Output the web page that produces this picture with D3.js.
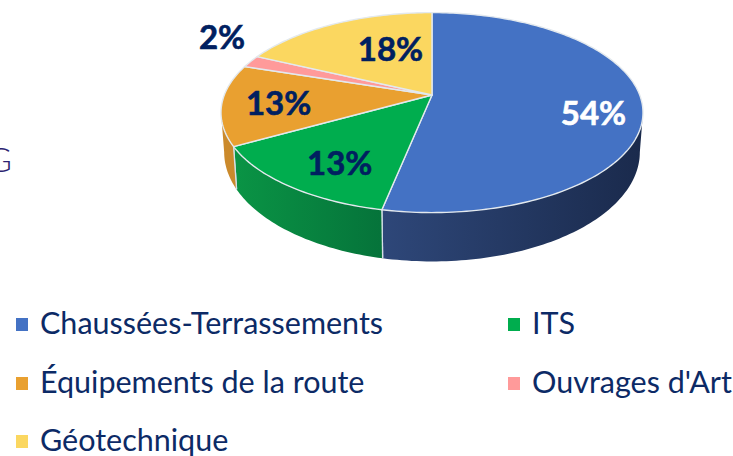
<!DOCTYPE html>
<html><head><meta charset="utf-8">
<script src="https://cdn.jsdelivr.net/npm/d3@7"></script>
<style>html,body{margin:0;padding:0;background:#fff}svg{display:block}text{font-family:Lato,"Noto Sans",sans-serif}</style>
</head><body><svg width="733" height="456"></svg>
<script>
const categories = ["Chaussées-Terrassements","ITS","Équipements de la route","Ouvrages d'Art","Géotechnique"];
const values = [53.2,13.7,13.1,2,18];
const labels = ["54%","13%","13%","2%","18%"];
const topColors = ["#4472c4","#00ad4e","#e9a030","#ff9a9a","#fbd760"];
const wallLeft = ["#2e4779","#0a9445","#cc8a2c","#c97a7a","#c9a94c"];
const wallRight = ["#1a2a4c","#05733a","#c98a2c","#c97a7a","#c9a94c"];
const labelColors = ["#ffffff","#002060","#002060","#002060","#002060"];
const labelRadius = [.7,.7,.7,1.2,.7];
const labelNudge = [[15,10],[3,6],[-7,0],[5,-19],[29,5]];

const svg = d3.select("svg");
const cx=432, cy=95, A=207.7, C=96.9, K=0.176;
const X=d3.scaleLinear().domain([-1,1]).range([cx-A,cx+A]);
const Y=d3.scaleLinear().domain([-1,1]).range([cy-C,cy+C]);
function project(theta,r=1){
  const u=r*Math.sin(theta), v=-r*Math.cos(theta), d=1-K*v;
  return [X(u/d),Y(v/d)];
}
function lower(p){ return [cx+(p[0]-cx)*0.985, cy+38+(p[1]-cy)*1.092]; }
function samples(a0,a1){
  const n=Math.max(2,Math.ceil(Math.abs(a1-a0)/0.02));
  return d3.range(n+1).map(i=>a0+(a1-a0)*i/n);
}
const line=d3.line();
const arcs=d3.pie().sort(null).value(d=>d)(values);
const defs=svg.append("defs");

// side wall, only along the front of the disc
const frontStart=Math.acos(-K)*1, frontEnd=2*Math.PI-frontStart;
arcs.forEach((a,i)=>{
  const s=Math.max(a.startAngle,frontStart), e=Math.min(a.endAngle,frontEnd);
  if(e<=s) return;
  const t=samples(s,e).map(x=>project(x));
  const poly=t.concat(t.map(lower).reverse());
  const xs=d3.extent(poly,p=>p[0]);
  const g=defs.append("linearGradient").attr("id","w"+i).attr("gradientUnits","userSpaceOnUse")
    .attr("x1",xs[0]).attr("x2",xs[1]).attr("y1",0).attr("y2",0);
  g.append("stop").attr("offset",0).attr("stop-color",wallLeft[i]);
  g.append("stop").attr("offset",1).attr("stop-color",wallRight[i]);
  svg.append("path").attr("d",line(poly)+"Z").attr("fill",`url(#w${i})`);
  [s,e].forEach(b=>{
    if(b===frontStart||b===frontEnd) return;
    const p=project(b);
    svg.append("path").attr("d",line([p,lower(p)])).attr("stroke","#d5dfe6").attr("stroke-width",1.3).attr("fill","none");
  });
});

// top face
arcs.forEach((a,i)=>{
  const pts=[[cx,cy]].concat(samples(a.startAngle,a.endAngle).map(x=>project(x)));
  svg.append("path").attr("d",line(pts)+"Z").attr("fill",topColors[i])
    .attr("stroke","#e3e9ee").attr("stroke-width",1.4).attr("stroke-linejoin","round");
});

// value labels
arcs.forEach((a,i)=>{
  const p=project((a.startAngle+a.endAngle)/2,labelRadius[i]);
  svg.append("text").attr("x",p[0]+labelNudge[i][0]).attr("y",p[1]+labelNudge[i][1])
    .attr("text-anchor","middle").attr("dominant-baseline","central")
    .attr("font-size",33).attr("font-weight",700).attr("fill",labelColors[i])
    .attr("stroke",labelColors[i]).attr("stroke-width",0.6).text(labels[i]);
});

// legend
const colX=d3.scaleOrdinal().domain([0,1]).range([16,508]);
const rowY=d3.scaleOrdinal().domain([0,1,2]).range([334,393,451]);
const legendOrder=[[0,0],[1,0],[0,1],[1,1],[0,2]];
categories.forEach((c,i)=>{
  const [col,row]=legendOrder[i];
  svg.append("rect").attr("x",colX(col)).attr("y",rowY(row)-16).attr("width",12).attr("height",13).attr("fill",topColors[i]);
  svg.append("text").attr("x",colX(col)+24).attr("y",rowY(row)).attr("font-size",30.5).attr("fill","#0c2a66").text(c);
});

// cropped fragment of neighbouring slide text at the left edge
svg.append("text").attr("x",-13).attr("y",172).attr("font-size",34).attr("font-family","Inter, sans-serif").attr("font-weight",300).attr("fill","#2c2270").text("G");
</script></body></html>
